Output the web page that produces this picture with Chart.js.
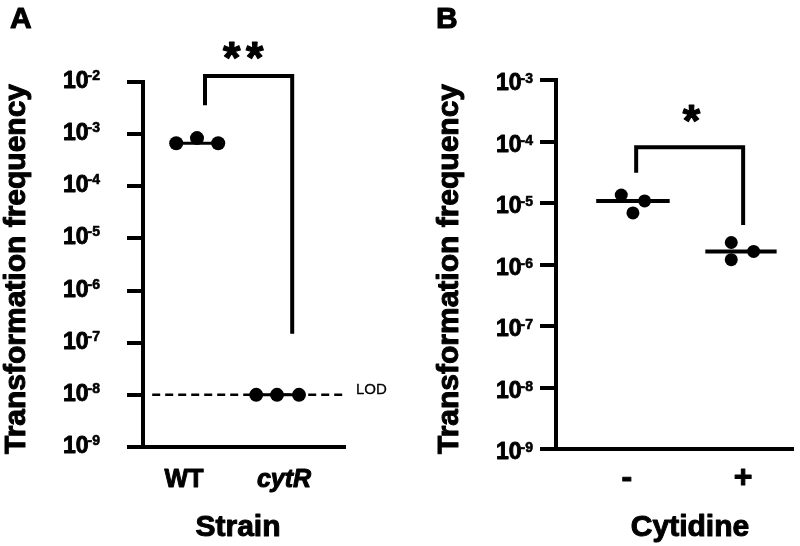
<!DOCTYPE html>
<html><head><meta charset="utf-8">
<script src="https://cdn.jsdelivr.net/npm/chart.js@4/dist/chart.umd.min.js"></script>
<style>
html,body{margin:0;padding:0;background:#fff;}
#wrap{position:relative;width:800px;height:546px;overflow:hidden;}
canvas{position:absolute;top:0;}
#ca{left:0;} #cb{left:400px;}
</style></head>
<body><div id="wrap"><canvas id="ca" width="400" height="546"></canvas><canvas id="cb" width="400" height="546"></canvas></div>
<script>
// ---------- Panel A data ----------
const strainCategories = ['WT', 'cytR'];
const wtValues = [6.7e-4, 8.4e-4, 6.7e-4];
const wtJitter = [-0.26, 0, 0.265];
const cytRValues = [1e-8, 1e-8, 1e-8];
const cytRJitter = [-0.26, 0, 0.275];
const strainMedians = [6.7e-4, 1e-8];
const lodValue = 1e-8;
const lodX = [0.44, 2.875];
const aTickValues = [1e-9, 1e-8, 1e-7, 1e-6, 1e-5, 1e-4, 1e-3, 1e-2];
const bracketAX = [1.1, 1.1, 2.19, 2.19];
const bracketAY = [3.6e-3, 1.3e-2, 1.3e-2, 1.48e-7];
const sigA = '**';

// ---------- Panel B data ----------
const cytidineCategories = ['-', '+'];
const minusValues = [1.35e-5, 6.9e-6, 1.08e-5];
const minusJitter = [-0.108, 0, 0.108];
const plusValues = [2.28e-6, 1.2e-6, 1.63e-6];
const plusJitter = [-0.09, -0.09, 0.117];
const cytidineMedians = [1.08e-5, 1.63e-6];
const bTickValues = [1e-9, 1e-8, 1e-7, 1e-6, 1e-5, 1e-4, 1e-3];
const bracketBX = [1.03, 1.03, 2.02, 2.02];
const bracketBY = [3.1e-5, 8.1e-5, 8.1e-5, 4.4e-6];
const sigB = '*';

const FONT = '"Liberation Sans", Arial, sans-serif';
const BLACK = '#000';

function pts(vals, jit, c) { return vals.map((v, i) => ({x: c + jit[i], y: v})); }
function seg(x0, x1, y) { return [{x: x0, y: y}, {x: x1, y: y}]; }
function path(xs, ys) { return xs.map((x, i) => ({x: x, y: ys[i]})); }

function heavyText(ctx, t, x, y, sw) {
  ctx.fillText(t, x, y);
  if (sw > 0) { ctx.lineWidth = sw; ctx.strokeStyle = BLACK; ctx.lineJoin = 'round'; ctx.strokeText(t, x, y); }
}

const deco = {
  id: 'deco',
  afterDraw(chart, args, o) {
    const ctx = chart.ctx, xs = chart.scales.x, ys = chart.scales.y;
    ctx.save();
    ctx.fillStyle = BLACK;
    // y tick labels 10^n
    ys.ticks.forEach(t => {
      const py = ys.getPixelForValue(t.value);
      const e = String(Math.round(Math.log10(t.value)));
      ctx.textAlign = 'right'; ctx.textBaseline = 'alphabetic';
      ctx.font = 'bold ' + o.expSize + 'px ' + FONT;
      const ew = ctx.measureText(e).width;
      heavyText(ctx, e, o.labelRight, py + o.expDy, 0.6);
      ctx.font = 'bold ' + o.baseSize + 'px ' + FONT;
      heavyText(ctx, '10', o.labelRight - ew + 1, py + o.baseDy, 0.9);
    });
    // category labels
    o.cats.forEach((c, i) => {
      ctx.font = o.catFonts[i];
      ctx.textAlign = 'center'; ctx.textBaseline = 'alphabetic';
      heavyText(ctx, c, xs.getPixelForValue(i + 1) + o.catOffsets[i], o.catBaseline, 1);
    });
    // x title
    ctx.font = 'bold ' + o.titleSize + 'px ' + FONT;
    ctx.textAlign = 'center';
    heavyText(ctx, o.xTitle, o.xTitleX, o.xTitleY, 1);
    // y title
    ctx.save();
    ctx.translate(o.yTitleX, o.yTitleY);
    ctx.rotate(-Math.PI / 2);
    heavyText(ctx, o.yTitle, 0, 0, 1);
    ctx.restore();
    // panel letter
    ctx.font = 'bold 30px ' + FONT;
    ctx.textAlign = 'left';
    heavyText(ctx, o.letter, o.letterX, 28, 1);
    // significance stars
    const bx = o.bx, by = o.by;
    const midX = (xs.getPixelForValue(bx[1]) + xs.getPixelForValue(bx[2])) / 2 + o.starDx;
    const topY = ys.getPixelForValue(by[1]) - o.starUp;
    ctx.font = 'bold 100px ' + FONT;
    const m = ctx.measureText('*');
    const gh = m.actualBoundingBoxAscent + m.actualBoundingBoxDescent;
    const size = 100 * o.starH / gh;
    ctx.font = 'bold ' + size + 'px ' + FONT;
    const mm = ctx.measureText('*');
    const n = o.stars.length;
    for (let i = 0; i < n; i++) {
      const cx = midX + (i - (n - 1) / 2) * o.starGap;
      const gx = cx - (mm.actualBoundingBoxRight - mm.actualBoundingBoxLeft) / 2;
      const gy = topY + (mm.actualBoundingBoxAscent - mm.actualBoundingBoxDescent) / 2;
      ctx.textAlign = 'left';
      heavyText(ctx, '*', gx, gy, 1.2);
    }
    // LOD label
    if (o.lod) {
      ctx.font = '15px ' + FONT;
      ctx.textAlign = 'left'; ctx.textBaseline = 'middle';
      heavyText(ctx, 'LOD', o.lodX, ys.getPixelForValue(o.lod) - 5, 0.3);
    }
    ctx.restore();
  }
};

function makeChart(id, d) {
  return new Chart(document.getElementById(id), {
    type: 'scatter',
    data: {datasets: d.datasets},
    options: {
      responsive: false, animation: false, devicePixelRatio: 1,
      layout: {padding: {left: 0, top: d.top, right: d.right, bottom: 0}},
      plugins: {legend: {display: false}, tooltip: {enabled: false}, deco: d.deco},
      scales: {
        x: {type: 'linear', min: d.xmin, max: d.xmax,
            ticks: {display: false}, grid: {display: false},
            border: {display: true, color: BLACK, width: 4},
            afterFit: s => { s.height = d.xh; }},
        y: {type: 'logarithmic', min: d.ymin, max: d.ymax,
            ticks: {display: false},
            grid: {display: true, drawOnChartArea: false, drawTicks: true, tickLength: 16, lineWidth: 4, color: BLACK},
            border: {display: true, color: BLACK, width: 4},
            afterBuildTicks: s => { s.ticks = d.ticks.map(v => ({value: v})); },
            afterFit: s => { s.width = d.yw; }}
      }
    },
    plugins: [deco]
  });
}

const dotA = {showLine: false, pointRadius: 7, pointBackgroundColor: BLACK, pointBorderWidth: 0, order: 0};
const lineStyle = (w) => ({showLine: true, pointRadius: 0, borderColor: BLACK, borderWidth: w, clip: false, order: 2, fill: false});

makeChart('ca', {
  top: 82, right: 55, xh: 99, yw: 143,
  xmin: 0.325, xmax: 2.85, ymin: 1e-9, ymax: 1e-2, ticks: aTickValues,
  datasets: [
    Object.assign({data: pts(wtValues, wtJitter, 1)}, dotA),
    Object.assign({data: pts(cytRValues, cytRJitter, 2)}, dotA),
    Object.assign({data: seg(1 + wtJitter[0], 1 + wtJitter[2], strainMedians[0])}, lineStyle(3)),
    Object.assign({data: seg(2 + cytRJitter[0], 2 + cytRJitter[2], strainMedians[1])}, lineStyle(3)),
    Object.assign({data: seg(lodX[0], lodX[1], lodValue), borderDash: [8, 5]}, lineStyle(2.5), {order: 3}),
    Object.assign({data: path(bracketAX, bracketAY), borderJoinStyle: 'miter', borderCapStyle: 'butt'}, lineStyle(4))
  ],
  deco: {
    labelRight: 100, baseSize: 23, expSize: 14, baseDy: 6, expDy: -2,
    cats: strainCategories, catOffsets: [-13, 7], catBaseline: 487,
    catFonts: ['bold 25px ' + FONT, 'italic bold 25px ' + FONT],
    xTitle: 'Strain', xTitleX: 238, xTitleY: 536, titleSize: 30,
    yTitle: 'Transformation frequency', yTitleX: 25, yTitleY: 269,
    letter: 'A', letterX: 10,
    bx: bracketAX, by: bracketAY, starDx: -5, starUp: 26, starH: 17, starGap: 23, stars: sigA,
    lod: lodValue, lodX: 356
  }
});

const dotB = {showLine: false, pointRadius: 6.5, pointBackgroundColor: BLACK, pointBorderWidth: 0, order: 0};
makeChart('cb', {
  top: 80, right: 0, xh: 97, yw: 156,
  xmin: 0.288, xmax: 2.486, ymin: 1e-9, ymax: 1e-3, ticks: bTickValues,
  datasets: [
    Object.assign({data: pts(minusValues, minusJitter, 1)}, dotB),
    Object.assign({data: pts(plusValues, plusJitter, 2)}, dotB),
    Object.assign({data: seg(1 - 0.34, 1 + 0.34, cytidineMedians[0])}, lineStyle(4)),
    Object.assign({data: seg(2 - 0.33, 2 + 0.33, cytidineMedians[1])}, lineStyle(4)),
    Object.assign({data: path(bracketBX, bracketBY), borderJoinStyle: 'miter', borderCapStyle: 'butt'}, lineStyle(4))
  ],
  deco: {
    labelRight: 133, baseSize: 23, expSize: 14, baseDy: 10, expDy: 3,
    cats: cytidineCategories, catOffsets: [-6, 2], catBaseline: 487,
    catFonts: ['bold 32px ' + FONT, 'bold 32px ' + FONT],
    xTitle: 'Cytidine', xTitleX: 290, xTitleY: 536, titleSize: 30,
    yTitle: 'Transformation frequency', yTitleX: 58, yTitleY: 269,
    letter: 'B', letterX: 36,
    bx: bracketBX, by: bracketBY, starDx: 2, starUp: 34, starH: 17, starGap: 23, stars: sigB,
    lod: null
  }
});
</script>
</body></html>
